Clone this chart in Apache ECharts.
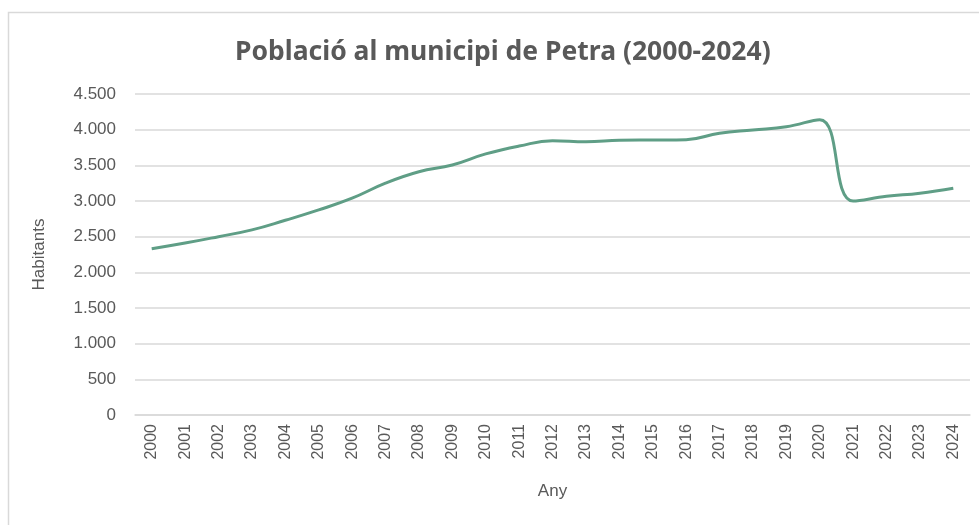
<!DOCTYPE html>
<html>
<head>
<meta charset="utf-8">
<script src="https://cdn.jsdelivr.net/npm/echarts@6/dist/echarts.min.js"></script>
<style>
html,body{margin:0;padding:0;background:#fff;}
#chart{width:979px;height:525px;}
</style>
</head>
<body>
<div id="chart"></div>
<script>
const titleText = 'Població al municipi de Petra (2000-2024)';
const years = ['2000','2001','2002','2003','2004','2005','2006','2007','2008','2009','2010','2011','2012','2013','2014','2015','2016','2017','2018','2019','2020','2021','2022','2023','2024'];
const habitants = [2330,2410,2500,2595,2730,2875,3040,3250,3410,3505,3660,3770,3845,3830,3850,3855,3860,3950,3995,4040,4140,3000,3065,3110,3180];
const xAxisName = 'Any';
const yAxisName = 'Habitants';

const chart = echarts.init(document.getElementById('chart'), null, {renderer:'canvas'});
const txt = '#595959';
const font = 'Liberation Sans';
chart.setOption({
  animation:false,
  backgroundColor:'#ffffff',
  graphic:[{type:'rect', shape:{x:8.5,y:12.5,width:1000,height:600}, style:{fill:'none', stroke:'#d9d9d9', lineWidth:1.5}, silent:true}],
  title:{text:titleText, left:230, top:34, textStyle:{fontFamily:'Noto Sans', fontSize:26.5, fontWeight:'bold', color:txt}},
  grid:{left:135, right:9, top:94, bottom:110, containLabel:false},
  xAxis:{type:'category', data:years, boundaryGap:true,
    name:xAxisName, nameLocation:'middle', nameGap:68,
    nameTextStyle:{fontFamily:font, fontSize:17, color:txt},
    axisLine:{show:true, lineStyle:{color:'#d9d9d9', width:1.5}},
    axisTick:{show:false},
    axisLabel:{rotate:90, margin:9, fontFamily:font, fontSize:16, color:txt}},
  yAxis:{type:'value', min:0, max:4500, interval:500,
    name:yAxisName, nameLocation:'middle', nameGap:87,
    nameTextStyle:{fontFamily:font, fontSize:17, color:txt},
    axisLine:{show:false}, axisTick:{show:false},
    splitLine:{lineStyle:{color:'#d9d9d9', width:1.5}},
    axisLabel:{margin:19, fontFamily:font, fontSize:17, color:txt,
      formatter:v=>String(v).replace(/\B(?=(\d{3})+(?!\d))/g,'.')}},
  series:[{type:'line', data:habitants, smooth:0.45, showSymbol:false, symbol:'none',
    lineStyle:{color:'#5f9e86', width:3}}]
});
</script>
</body>
</html>
